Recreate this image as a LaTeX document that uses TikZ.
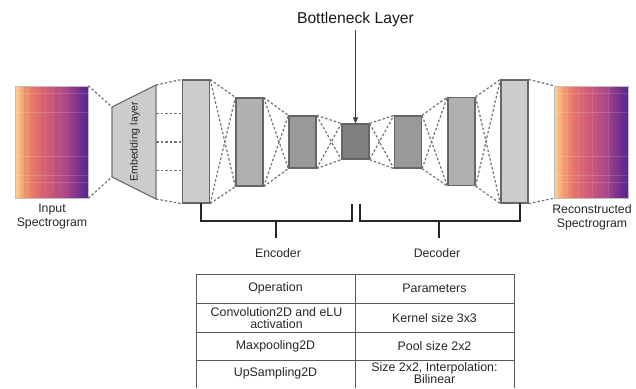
\documentclass[tikz,border=0pt]{standalone}
\usepackage{fontspec}
\setmainfont{Liberation Sans}
\usetikzlibrary{calc,arrows.meta}

% 频谱图配色
\definecolor{mgA}{HTML}{FBCB8E}
\definecolor{mgB}{HTML}{F59C70}
\definecolor{mgC}{HTML}{E6746C}
\definecolor{mgD}{HTML}{D05C7A}
\definecolor{mgE}{HTML}{AA478A}
\definecolor{mgF}{HTML}{6E2E8E}
\definecolor{mgG}{HTML}{5A268C}
\pgfdeclarehorizontalshading{magma}{100bp}{color(0bp)=(mgA); color(26bp)=(mgA); color(31bp)=(mgB); color(38bp)=(mgC); color(48bp)=(mgD); color(60bp)=(mgE); color(70bp)=(mgF); color(75bp)=(mgG); color(100bp)=(mgG)}

\begin{document}
\begin{tikzpicture}[x=1pt,y=-1pt,
    layer/.style={draw=black!60,line width=1.2pt,minimum width=27pt,inner sep=0pt},
    link/.style={draw=black!55,dash pattern=on 2.5pt off 2pt,line width=1.2pt},
    spec/.style={draw=black!25,line width=0.6pt,shading=magma,minimum width=73pt,minimum height=112pt,inner sep=0pt},
    brace/.style={draw=black!85,line width=1.4pt},
    tab/.style={draw=black!65,line width=0.9pt},
    lbl/.style={font=\fontsize{12.3}{13.8}\selectfont,align=center,text=black!85},
    cell/.style={font=\fontsize{12.4}{11.8}\selectfont,align=center,text=black!85}]

    \useasboundingbox (0,0) rectangle (636,388);

    % 输入与输出频谱图
    \node[spec] (inspec) at (51.5,142) {};
    \node[spec,minimum width=74pt] (outspec) at (591,142) {};
    \foreach \t in {0.07,0.24,0.63,0.8,0.86}{
        \draw[white,opacity=0.15,line width=0.8pt] ($(inspec.north west)!\t!(inspec.south west)$) -- ($(inspec.north east)!\t!(inspec.south east)$);
        \draw[white,opacity=0.15,line width=0.8pt] ($(outspec.north west)!\t!(outspec.south west)$) -- ($(outspec.north east)!\t!(outspec.south east)$);
    }
    \foreach \t in {0.1,0.19,0.33,0.52,0.74}{
        \draw[white,opacity=0.1,line width=1pt] ($(outspec.north west)!\t!(outspec.north east)$) -- ($(outspec.south west)!\t!(outspec.south east)$);
        \draw[black,opacity=0.04,line width=1.5pt] ($(inspec.north west)!\t+0.04!(inspec.north east)$) -- ($(inspec.south west)!\t+0.04!(inspec.south east)$);
    }
    \node[lbl] (inlbl) at (52,216.5) {Input\\Spectrogram};
    \node[lbl] (outlbl) at (592,217) {Reconstructed\\Spectrogram};

    % 嵌入层(梯形)
    \coordinate (emb-lt) at (112,107);
    \coordinate (emb-lb) at (112,177);
    \coordinate (emb-rt) at (156,85);
    \coordinate (emb-rb) at (156,199);
    \draw[draw=black!55,fill=black!20,line width=1.2pt] (emb-lt) -- (emb-rt) -- (emb-rb) -- (emb-lb) -- cycle;
    \node[rotate=90,font=\fontsize{10.6}{12}\selectfont,text=black!85] (embtxt) at (135,142) {Embedding layer};

    % 编码器、瓶颈层、解码器
    \node[layer,fill=black!20,minimum height=123pt] (enc1) at (196,141.5) {};
    \node[layer,fill=black!31,minimum height=88pt] (enc2) at (249.5,142) {};
    \node[layer,fill=black!40,minimum height=52pt] (enc3) at (302.5,142) {};
    \node[layer,fill=black!50,minimum height=35pt] (neck) at (355.5,141.5) {};
    \node[layer,fill=black!40,minimum height=52pt] (dec1) at (408,142) {};
    \node[layer,fill=black!31,minimum height=88pt] (dec2) at (461.5,141.5) {};
    \node[layer,fill=black!20,minimum height=123pt] (dec3) at (514.5,141.5) {};

    % 虚线连接
    \draw[link] (inspec.north east) -- (emb-lt);
    \draw[link] (inspec.south east) -- (emb-lb);
    \draw[link] (emb-rt) -- (enc1.north west);
    \draw[link] (emb-rb) -- (enc1.south west);
    \foreach \t in {0.25,0.5,0.75}
        \draw[link] ($(emb-rt)!\t!(emb-rb)$) coordinate (m) -- (m -| enc1.west);
    \foreach \a/\b in {enc1/enc2,enc2/enc3,enc3/neck,neck/dec1,dec1/dec2,dec2/dec3}{
        \draw[link] (\a.north east) -- (\b.north west);
        \draw[link] (\a.north east) -- (\b.south west);
        \draw[link] (\a.south east) -- (\b.north west);
        \draw[link] (\a.south east) -- (\b.south west);
    }
    \draw[link] (dec3.north east) -- (outspec.north west);
    \draw[link] (dec3.south east) -- (outspec.south west);

    % 瓶颈层标注
    \node[font=\fontsize{15.7}{18}\selectfont,text=black!90] (necktxt) at (355.5,19) {Bottleneck Layer};
    \draw[black!75,line width=0.9pt,-{Triangle[length=6pt,width=5pt]}] (necktxt.south -| neck.north) -- (neck.north);

    % 编码器/解码器括号
    \coordinate (enc-l) at (201,203);
    \coordinate (enc-r) at (352,204);
    \coordinate (enc-m) at (276,221);
    \coordinate (dec-l) at (360,204);
    \coordinate (dec-r) at (520,203);
    \coordinate (dec-m) at (439,221);
    \draw[brace] (enc-l) -- ++(0,18) -| (enc-r);
    \draw[brace] (dec-l) -- ++(0,17) -| (dec-r);
    \draw[brace] (enc-m) -- ++(0,17);
    \draw[brace] (dec-m) -- ++(0,17);
    \node[lbl] (enclbl) at (278,253) {Encoder};
    \node[lbl] (declbl) at (437,253) {Decoder};

    % 参数表
    \draw[tab] (196,274) -- (514,274);
    \foreach \yy in {303,332,360}
        \draw[tab] (196,\yy) -- (514,\yy);
    \foreach \xx in {196,355,514}
        \draw[tab] (\xx,274) -- (\xx,388);
    \node[cell] (op0) at (275.5,288.5) {Operation};
    \node[cell] (par0) at (434.5,288.5) {Parameters};
    \node[cell] (op1) at (276.5,318) {Convolution2D and eLU\\activation};
    \node[cell] (par1) at (434.5,318) {Kernel size 3x3};
    \node[cell] (op2) at (275.5,346) {Maxpooling2D};
    \node[cell] (par2) at (434.5,346) {Pool size 2x2};
    \node[cell] (op3) at (275.5,373.5) {UpSampling2D};
    \node[cell] (par3) at (434.5,373) {Size 2x2, Interpolation:\\Bilinear};
\end{tikzpicture}
\end{document}
